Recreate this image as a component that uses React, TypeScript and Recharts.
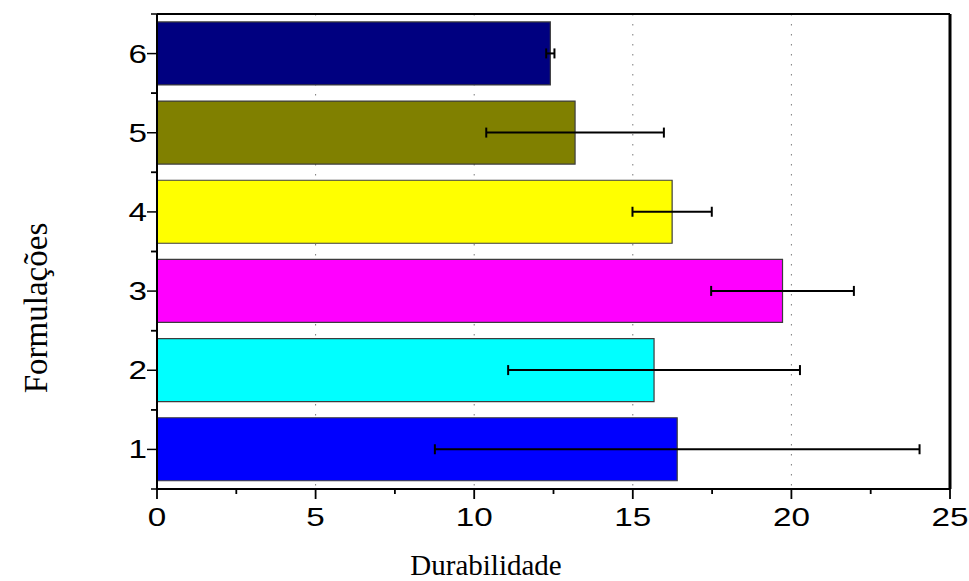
import { BarChart, Bar, XAxis, YAxis, CartesianGrid, ErrorBar, Cell, Customized } from "recharts";

const formulacoes = ["1", "2", "3", "4", "5", "6"];
const durabilidade = [16.4, 15.67, 19.72, 16.24, 13.18, 12.4];
const desvio = [7.64, 4.6, 2.25, 1.25, 2.8, 0.13];
const cores = ["#0000FF", "#00FFFF", "#FF00FF", "#FFFF00", "#808000", "#000080"];
const xTicks = [0, 2.5, 5, 7.5, 10, 12.5, 15, 17.5, 20, 22.5, 25];
const gridValues = [5, 10, 15, 20];

const data = formulacoes.map((name, i) => ({
  name,
  value: durabilidade[i],
  err: desvio[i],
}));

const TICK_FONT = "'Liberation Sans', Arial, sans-serif";
const TITLE_FONT = "'Liberation Serif', 'Times New Roman', serif";

function XTick(props: any) {
  const { x, y, payload } = props;
  const major = payload.value % 5 === 0;
  return (
    <g>
      <line x1={x} x2={x} y1={y} y2={y + (major ? 10 : 5)} stroke="#000" strokeWidth={1.8} />
      {major && (
        <text
          transform={`translate(${x},${y + 37}) scale(1.33,1)`}
          textAnchor="middle"
          fontFamily={TICK_FONT}
          fontSize={25}
          fill="#000"
        >
          {payload.value}
        </text>
      )}
    </g>
  );
}

function YTick(props: any) {
  const { x, y, payload } = props;
  const half = payload.offset || 39.6;
  const axisX = x + 10;
  return (
    <g>
      <line x1={axisX} x2={axisX - 6} y1={y - half} y2={y - half} stroke="#000" strokeWidth={1.5} />
      <line x1={axisX} x2={axisX - 6} y1={y + half} y2={y + half} stroke="#000" strokeWidth={1.5} />
      <text
        transform={`translate(${x},${y + 9}) scale(1.33,1)`}
        textAnchor="end"
        fontFamily={TICK_FONT}
        fontSize={25}
        fill="#000"
      >
        {payload.value}
      </text>
    </g>
  );
}

function Titles() {
  return (
    <g>
      <text x={478} y={567} textAnchor="middle" fontFamily={TITLE_FONT} fontSize={29} fill="#000">
        Durabilidade
      </text>
      <text
        transform="translate(39,300) rotate(-90)"
        textAnchor="middle"
        fontFamily={TITLE_FONT}
        fontSize={33}
        fill="#000"
      >
        Formulações
      </text>
    </g>
  );
}

export default function App() {
  return (
    <div style={{ padding: "8px 0 0 8px", width: 961, height: 573 }}>
      <style>{"body { margin: 0; }"}</style>
      <BarChart
        width={961}
        height={573}
        data={data}
        layout="vertical"
        barCategoryGap="10%"
        margin={{ top: 5, right: 18, bottom: 4, left: 10 }}
      >
        <CartesianGrid
          horizontal={false}
          verticalValues={gridValues}
          stroke="#7a7a7a"
          strokeDasharray="1.5 8.5"
        />
        <XAxis
          type="number"
          domain={[0, 25]}
          ticks={xTicks}
          interval={0}
          tick={<XTick />}
          tickLine={false}
          tickSize={0}
          tickMargin={0}
          height={88}
          axisLine={{ stroke: "#000", strokeWidth: 2 }}
        />
        <XAxis
          xAxisId="top"
          orientation="top"
          type="number"
          domain={[0, 25]}
          ticks={xTicks}
          interval={0}
          tick={false}
          tickSize={2}
          tickLine={{ stroke: "#000", strokeWidth: 1 }}
          height={1}
          axisLine={{ stroke: "#000", strokeWidth: 2 }}
        />
        <YAxis
          type="category"
          dataKey="name"
          reversed
          width={139}
          tickSize={10}
          tickMargin={0}
          tick={<YTick />}
          tickLine={{ stroke: "#000", strokeWidth: 1.5 }}
          axisLine={{ stroke: "#000", strokeWidth: 2 }}
        />
        <YAxis
          yAxisId="right"
          orientation="right"
          type="number"
          domain={[0, 1]}
          width={1}
          tick={false}
          tickLine={false}
          axisLine={{ stroke: "#000", strokeWidth: 3 }}
        />
        <Bar dataKey="value" stroke="#3c3c3c" strokeWidth={1.2} isAnimationActive={false}>
          {data.map((d, i) => (
            <Cell key={d.name} fill={cores[i]} />
          ))}
          <ErrorBar dataKey="err" direction="x" width={5} stroke="#000" strokeWidth={2} />
        </Bar>
        <Customized component={Titles} />
      </BarChart>
    </div>
  );
}
